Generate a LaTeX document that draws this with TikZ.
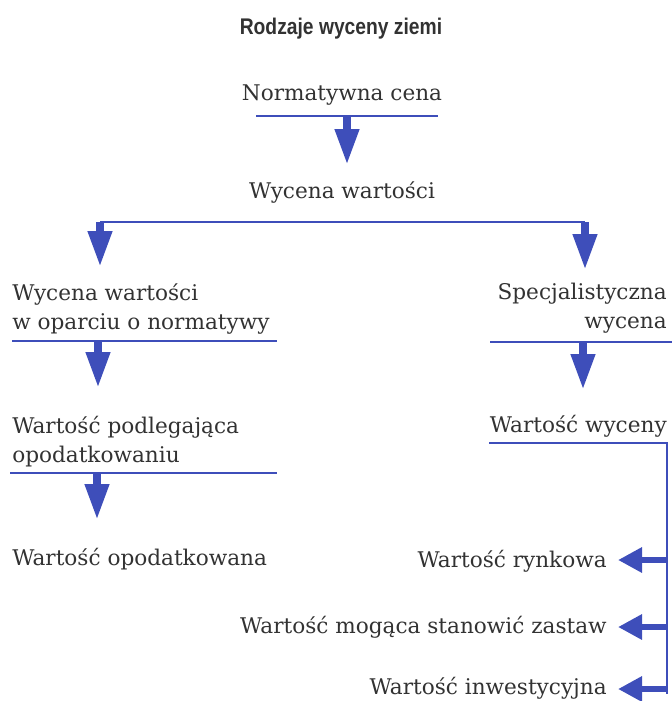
\documentclass[tikz,border=0pt]{standalone}
\usepackage{fontspec}
\usepackage{graphicx}
\setmainfont{DejaVu Serif}
\newfontfamily\titlefont{Liberation Sans}
\usetikzlibrary{arrows.meta}
\definecolor{lineblue}{RGB}{62,78,186}
\definecolor{txt}{RGB}{50,50,50}
\begin{document}
\begin{tikzpicture}[x=0.75pt,y=-0.75pt,
  lbl/.style={inner sep=0pt, text=txt, font=\fontsize{16.2}{21.75}\selectfont},
  ttl/.style={inner sep=0pt, text=txt, font=\titlefont\bfseries\fontsize{17}{20}\selectfont},
  uline/.style={draw=lineblue, line width=2pt},
  downarrow/.style={draw=lineblue, line width=6pt, -{Triangle[length=27pt,width=17pt]}},
  leftarrow/.style={draw=lineblue, line width=5pt, -{Triangle[length=18pt,width=18pt]}}
]
\useasboundingbox (0,0) rectangle (672,701);
\clip (0,0) rectangle (672,701);
% title
\node[ttl, anchor=base] (title) at (341,34) {\scalebox{0.85}[1]{Rodzaje wyceny ziemi}};
% top
\node[lbl, anchor=base] (norm) at (342,100) {Normatywna cena};
\coordinate (normL) at (256,116);
\coordinate (normR) at (438,116);
\coordinate (normA) at (347,116);
\coordinate (normT) at (347,165);
\draw[uline] (normL) -- (normR);
\draw[downarrow] (normA) -- (normT);
\node[lbl, anchor=base] (wyc) at (342,198) {Wycena wartości};
% branch
\coordinate (brL) at (100,222);
\coordinate (brR) at (585,222);
\coordinate (brLT) at (100,267);
\coordinate (brRT) at (585,270);
\draw[uline] (brL) -- (brR);
\draw[downarrow] (brL) -- (brLT);
\draw[downarrow] (brR) -- (brRT);
% left column
\node[lbl, anchor=base west, align=left] (wn) at (12,329) {Wycena wartości\\w oparciu o normatywy};
\coordinate (wnL) at (12,341);
\coordinate (wnR) at (277,341);
\coordinate (wnA) at (98,341);
\coordinate (wnT) at (98,388);
\draw[uline] (wnL) -- (wnR);
\draw[downarrow] (wnA) -- (wnT);
\node[lbl, anchor=base west, align=left] (wp) at (12,462) {Wartość podlegająca\\opodatkowaniu};
\coordinate (wpL) at (10,473);
\coordinate (wpR) at (277,473);
\coordinate (wpA) at (97,473);
\coordinate (wpT) at (97,520);
\draw[uline] (wpL) -- (wpR);
\draw[downarrow] (wpA) -- (wpT);
\node[lbl, anchor=base west] (wo) at (12,565) {Wartość opodatkowana};
% right column
\node[lbl, anchor=base east, align=right] (sw) at (667,328) {Specjalistyczna\\wycena};
\coordinate (swL) at (490,342);
\coordinate (swR) at (672,342);
\coordinate (swA) at (583,342);
\coordinate (swT) at (583,390);
\draw[uline] (swL) -- (swR);
\draw[downarrow] (swA) -- (swT);
\node[lbl, anchor=base east] (ww) at (667,432) {Wartość wyceny};
\coordinate (wwL) at (489,443);
\coordinate (wwC) at (667,443);
\coordinate (wwB) at (667,694);
\draw[uline] (wwL) -- (wwC) -- (wwB);
\node[lbl, anchor=base east] (wr) at (607,567) {Wartość rynkowa};
\node[lbl, anchor=base east] (wm) at (607,633) {Wartość mogąca stanowić zastaw};
\node[lbl, anchor=base east] (wi) at (607,694) {Wartość inwestycyjna};
\coordinate (a1) at (667,560);
\coordinate (a2) at (667,627);
\coordinate (a3) at (667,689);
\draw[leftarrow] (a1) -- ([xshift=8.25pt]wr.east |- a1);
\draw[leftarrow] (a2) -- ([xshift=8.25pt]wm.east |- a2);
\draw[leftarrow] (a3) -- ([xshift=8.25pt]wi.east |- a3);
\end{tikzpicture}
\end{document}
